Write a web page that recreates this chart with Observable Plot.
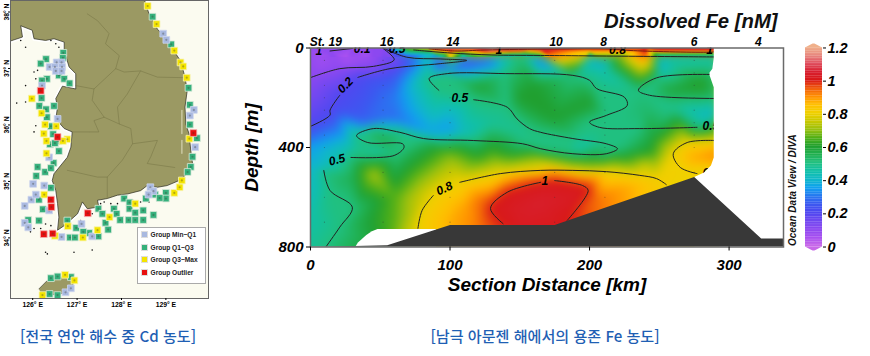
<!DOCTYPE html>
<html lang="ko">
<head>
<meta charset="utf-8">
<script src="https://cdn.jsdelivr.net/npm/d3@7"></script>
<script src="https://cdn.jsdelivr.net/npm/@observablehq/plot@0.6"></script>
<style>
html,body{margin:0;padding:0;background:#fff;width:870px;height:356px;overflow:hidden}
#page{position:relative;width:870px;height:356px}
#page>svg,#page>div{position:absolute}
.cap{font-family:"Noto Sans CJK KR";font-size:15.1px;font-weight:500;color:#1f5fb4;white-space:nowrap;transform:translateX(-50%);line-height:20px}
#legend{left:137px;top:227px;width:67px;height:55px;background:#fff;border:1px solid #aaa;font:bold 6.6px "Liberation Sans";color:#222}
#legend div{position:absolute;left:3px;display:flex;align-items:center;gap:2.5px;white-space:nowrap}
#legend i{display:block;width:7px;height:7px;box-sizing:border-box}
</style>
</head>
<body>
<div id="page"></div>
<script>
// ---------- Map: stations [lon, lat] ----------
const groupMinQ1 = [[128.94,37.67],[129.01,37.56],[129.63,36.32],[129.54,36.22],[129.66,35.66],[126.54,37.16],[126.65,37.16],[126.38,37.08],[126.50,37.08],[126.66,37.08],[126.52,37.01],[126.65,37.01],[126.21,36.75],[126.56,36.16],[126.37,35.48],[126.01,35.01],[126.26,34.98],[125.82,34.62],[125.97,34.73],[126.07,34.82],[126.37,34.54],[125.82,34.32],[125.90,34.24],[127.10,34.30],[127.34,34.08],[126.65,34.07],[128.65,34.95],[128.72,34.88],[128.61,34.82],[126.74,33.09],[126.86,33.16]];
const groupQ1Q3 = [[128.70,37.97],[129.12,37.48],[129.51,36.71],[129.54,36.41],[129.54,36.06],[129.70,35.82],[129.60,35.49],[129.56,35.31],[129.49,35.22],[126.69,37.33],[126.68,37.24],[126.30,37.22],[126.18,37.14],[126.32,36.87],[126.21,36.84],[126.59,36.93],[126.71,36.87],[126.83,36.79],[126.20,36.53],[126.15,36.39],[126.30,36.33],[126.48,36.39],[126.32,36.19],[126.41,36.03],[126.46,35.89],[126.57,35.77],[126.39,35.71],[126.50,35.73],[126.59,35.59],[126.47,35.38],[126.11,35.31],[126.28,35.22],[126.41,35.29],[126.08,35.15],[126.41,34.94],[126.14,34.73],[126.23,34.56],[126.14,34.36],[125.90,34.37],[126.78,34.36],[128.06,34.75],[128.18,34.68],[128.18,34.57],[127.83,34.57],[127.48,34.57],[127.57,34.48],[127.89,34.48],[128.31,34.50],[128.49,34.54],[128.72,34.46],[127.97,34.37],[128.16,34.37],[128.31,34.37],[128.49,34.37],[127.64,34.32],[126.98,34.23],[127.27,34.14],[127.14,34.16],[127.48,34.08],[127.70,34.20],[126.84,34.06],[126.95,34.06],[128.76,34.82],[129.00,34.85],[129.00,34.75],[128.86,34.76],[128.55,34.75],[126.41,33.34],[126.56,33.37],[126.86,33.36],[126.38,33.06],[126.56,33.04]];
const groupQ3Max = [[128.59,38.16],[128.79,37.84],[129.19,37.37],[129.33,37.16],[129.39,37.09],[129.47,36.89],[125.98,36.52],[126.20,36.26],[126.28,36.06],[126.53,36.03],[126.25,35.90],[126.78,35.80],[126.31,35.77],[126.68,35.77],[126.31,35.55],[129.53,35.81],[126.26,34.82],[126.79,34.26],[127.46,34.19],[127.73,34.42],[128.31,34.66],[127.13,34.06],[126.50,34.09],[129.19,34.85],[129.31,34.95],[129.36,35.07],[126.73,33.40],[126.94,33.30],[126.22,33.04]];
const groupOutlier = [[126.18,36.66],[129.62,35.91],[126.56,35.84],[126.41,34.73],[126.42,34.60],[126.25,34.12],[126.45,34.13],[127.24,34.49]];
const coastMain = [[125.50,38.26],[128.52,38.26],[128.62,38.02],[128.81,37.75],[129.03,37.55],[129.20,37.34],[129.33,37.19],[129.43,36.90],[129.48,36.66],[129.43,36.37],[129.45,36.07],[129.52,35.90],[129.57,35.54],[129.60,35.37],[129.52,35.28],[129.48,35.19],[129.30,35.07],[129.03,34.98],[128.81,34.95],[128.58,34.98],[128.43,34.89],[128.13,34.83],[127.91,34.81],[127.68,34.75],[127.46,34.72],[127.49,34.60],[127.23,34.57],[127.12,34.69],[127.01,34.48],[126.71,34.27],[126.56,34.19],[126.59,34.42],[126.56,34.66],[126.52,34.89],[126.44,35.07],[126.48,35.19],[126.78,35.48],[126.86,35.66],[126.89,35.93],[126.71,35.99],[126.52,36.16],[126.56,36.37],[126.52,36.52],[126.67,36.74],[126.97,36.69],[126.97,36.96],[126.82,37.08],[126.71,37.37],[126.71,37.52],[126.48,37.58],[126.29,37.55],[126.03,37.58],[125.99,37.73],[125.73,37.81],[125.77,37.61],[125.50,37.54]];
const coastJeju = [[126.14,33.15],[126.33,33.30],[126.71,33.37],[126.93,33.30],[126.89,33.18],[126.74,33.08],[126.22,33.02]];
const provinceLines = [
 [[127.23,38.02],[127.46,37.90],[127.72,37.67],[127.64,37.49],[127.95,37.28],[127.87,37.05],[128.06,36.99],[128.43,37.01],[128.81,36.90],[129.43,36.89]],
 [[126.97,36.75],[127.38,36.69],[127.87,37.05]],
 [[127.38,36.69],[127.34,36.49],[127.61,36.19],[127.38,36.13],[127.49,35.93],[127.27,35.93],[126.89,35.93]],
 [[128.43,37.01],[128.13,36.60],[127.91,36.37],[127.95,36.07],[128.21,35.99],[128.25,35.72],[128.02,35.43],[127.68,35.13],[127.68,34.75]],
 [[127.95,36.07],[127.61,36.19]],
 [[128.25,35.72],[128.81,35.78],[128.66,35.49],[128.58,35.37],[129.20,35.30]],
 [[126.78,35.25],[127.46,35.13],[127.68,35.13]]
];
const tileLines = [[[129.36,36.31],[129.36,35.90]],[[129.36,35.78],[129.36,35.55]]];
const islandSpecks = [[125.73,37.55],[125.84,37.43],[126.03,36.99],[126.07,36.87],[126.11,37.02],[125.84,36.75],[125.64,36.44],[125.84,36.46],[126.07,36.04],[126.03,35.93],[126.52,37.49],[126.41,37.55],[126.59,37.43],[126.29,33.80],[126.33,33.77],[127.34,33.84],[126.93,33.80],[126.03,34.22],[126.18,34.22],[125.95,34.16],[127.61,34.69],[127.76,34.66],[127.91,34.66],[127.53,34.66],[127.34,34.48],[127.08,34.36],[128.81,34.72],[128.43,34.69],[128.62,34.69],[128.25,34.72],[129.18,34.89],[126.29,34.30],[126.41,34.27]];
const lonTicks = [126,127,128,129];
const latTicks = [34,35,36,37,38];
const legendNames = ["Group Min~Q1","Group Q1~Q3","Group Q3~Max","Group Outlier"];
const legendFills = ["#a9b9e0","#35b07c","#f4e400","#e80f10"];

// ---------- Section: contour lines, each piece [km, depth], with its value ----------
const contourLines = [
 {value:0.1, pts:[[0,119],[21,83],[45,74],[60,47],[52,2]]},
 {value:0.1, pts:[[14,12],[30,2]]},
 {value:0.2, pts:[[0,315],[14,270],[14,250],[21,190]]},
 {value:0.2, pts:[[34,118],[57,83],[93,63],[112,50],[93,44],[69,37],[52,0]]},
 {value:0.5, pts:[[92,170],[85,123],[98,103],[140,103],[188,110],[200,130],[205,163],[225,198],[227,231],[212,271],[200,298],[207,319],[236,324],[277,319]]},
 {value:0.5, pts:[[117,208],[141,238],[148,285],[157,324],[165,339],[188,364],[212,385],[220,405],[212,425],[188,425],[165,405],[152,385],[117,372],[81,364],[64,339],[45,324],[33,352],[41,380],[66,385],[67,400],[60,432],[29,440]]},
 {value:0.5, pts:[[9.5,492],[14,573],[30,640],[21,720],[11,800]]},
 {value:0.5, pts:[[292,107],[248,120],[235,170],[243,190],[292,203]]},
 {value:0.8, pts:[[77,725],[80,653],[88,593]]},
 {value:0.8, pts:[[107,540],[136,505],[165,492],[188,492],[212,497],[236,512],[248,525],[255,549]]},
 {value:0.8, pts:[[292,372],[270,380],[260,425],[265,480],[277,505]]},
 {value:1, pts:[[138,706],[129,645],[141,580],[165,540]]},
 {value:1, pts:[[175,533],[195,553],[199,573],[184,693]]}
];
// thin surface-layer contour pieces (not used as field samples)
const surfaceLine05 = [[74,8],[100,20],[130,28],[165,30],[290,36]];
const surfaceLine1 = [[85,3],[103,12],[125,8],[175,4],[215,4],[229,10],[284,17],[292,14]];
// additional readings of the Fe field [km, depth, nM]
const fieldSamples = [
 [0,0,.08],[30,0,.07],[45,0,.1],[52,0,.2],[60,0,.45],[70,0,.7],[85,0,1.0],[100,0,1.15],[130,0,1.18],[160,0,1.1],[200,0,1.03],[240,0,1.03],[292,0,1.03],
 [0,6,.08],[60,6,.35],[85,6,.7],[100,6,1.05],[130,6,1.18],[165,6,1.05],[200,6,.95],[250,6,1.05],[292,6,1.05],
 [60,14,.28],[85,14,.55],[110,14,.78],[150,14,.9],[200,14,.82],[250,14,.9],[292,14,.9],
 [60,25,.24],[85,25,.42],[110,25,.48],[150,25,.5],[200,25,.52],[250,25,.55],[292,25,.55],
 [130,40,.33],[165,40,.36],[200,40,.4],[250,40,.42],[292,40,.44],
 [130,60,.3],[165,60,.3],[210,60,.34],[250,60,.38],[292,60,.4],
 [100,85,.3],[130,85,.4],[165,85,.42],[210,85,.44],[292,85,.46],
 [25,40,.04],[10,40,.06],[40,40,.06],[10,90,.09],[30,60,.06],
 [20,250,.22],[60,200,.3],[60,120,.25],[40,300,.27],[60,280,.28],[100,280,.38],[100,330,.35],[85,340,.36],[110,340,.42],[130,300,.47],[150,340,.48],
 [150,200,.6],[200,220,.6],[175,280,.6],[120,150,.59],[160,150,.6],[225,300,.5],[240,240,.52],[245,360,.58],
 [260,170,.58],[280,150,.62],[260,240,.48],[280,260,.42],[280,300,.44],[292,260,.42],
 [0,400,.35],[0,500,.4],[0,600,.42],[0,700,.45],[0,800,.47],[10,480,.42],[40,700,.58],
 [50,360,.56],[30,400,.45],[50,420,.46],[120,440,.62],[100,430,.68],[130,430,.65],[45,505,.72],[30,520,.55],[60,600,.65],[60,720,.66],[75,650,.74],
 [165,450,.72],[200,450,.6],[190,405,.45],[245,420,.62],[240,470,.75],
 [275,440,.88],[292,430,.92],[285,500,.78],[292,520,.8],
 [165,620,1.04],[150,650,1.03],[190,600,1.02],[125,620,.95],[110,640,.88],[100,700,.87],[205,610,.93],[225,565,.88],[250,535,.82],[175,715,1.01],[150,715,1.02],[120,715,.92],
 [292,800,.8],[240,800,.85],[180,800,1.0],[100,800,.85],[50,800,.6]
];
const stationDotKm = [10,52,100,175,211,275];
const stationDotDepth = [50,100,150,200,250,300,350,400,500,600,700];
const bathymetry = [[0,800],[55,793],[100,712],[175,712],[275,519],[323,766],[339,766],[339,800]];
const whitePocket = [[32,800],[34,782],[37,767],[40,752],[44,737],[48,728],[90,728],[90,800]];
const dataEdge = [[289,-2],[289,40],[288,83],[286,98],[286,110],[289,158],[289,300],[289,400],[289,440],[287,472],[282,500],[275,519],[275,800],[339,800],[339,-2]];
const stationKm = [11,54.6,102,176,210,275,321];
const stationNames = ["St. 19","16","14","10","8","6","4"];
const contourLabels = [
 {km:6,depth:14,t:"1",r:0},{km:37,depth:4,t:"0.1",r:0},{km:62,depth:3,t:"0.5",r:0},{km:135,depth:8,t:"1",r:0},{km:220,depth:8,t:"0.8",r:0},{km:286,depth:10,t:"1",r:0},
 {km:25,depth:150,t:"0.2",r:-45},{km:107,depth:200,t:"0.5",r:0},{km:19,depth:450,t:"0.5",r:-15},{km:96,depth:565,t:"0.8",r:-25},{km:168,depth:537,t:"1",r:0},{km:287,depth:316,t:"0.5",r:0},{km:287,depth:505,t:"0.8",r:0}
];
const barTicks = [0,.2,.4,.6,.8,1,1.2];
const barLevels = d3.range(0,1.2,0.01);
const colorStops = [0,.05,.1,.15,.2,.25,.3,.35,.4,.45,.5,.55,.6,.65,.7,.75,.8,.85,.9,.95,1,1.05,1.1,1.15,1.2];
const colorValues = ["#c868e8","#a850f0","#8c48f0","#7048f0","#5048f0","#3c58f0","#2878f0","#10a0f0","#10b8c8","#10c0a8","#20c080","#20b050","#20a030","#50b018","#98c010","#c8c800","#f0d000","#ffc000","#ff9000","#f05a0a","#d81818","#d82030","#e05060","#e88a80","#f0b08a"];

// ---------- Build ----------
const page = document.getElementById("page");
const fe = {type:"linear",domain:colorStops,range:colorValues,clamp:true};
const font = {fontFamily:"Liberation Sans",fontWeight:"bold",fontStyle:"italic",background:"transparent",overflow:"visible"};
const square = (d,fill,st) => [
  Plot.dot(d,{x:"0",y:"1",symbol:"square",r:3.8,fill,stroke:st,strokeWidth:.8}),
  Plot.dot(d,{x:"0",y:"1",r:1.1,fill:"#3a3a2a",fillOpacity:.35})
];

const map = Plot.plot({
  width:220,height:320,marginLeft:10,marginRight:12,marginTop:0,marginBottom:22,
  style:{fontFamily:"Liberation Sans",fontWeight:"bold",background:"transparent",overflow:"visible"},
  x:{domain:[125.5,129.96]},y:{domain:[32.98,38.257]},
  marks:[
    Plot.frame({fill:"#fbfbf0"}),
    Plot.line(coastMain.slice(24),{x:"0",y:"1",stroke:"#fff",strokeWidth:4,clip:"frame"}),
    Plot.line(coastMain,{x:"0",y:"1",fill:"#9b9963",stroke:"#2b2b20",strokeWidth:.7,clip:"frame"}),
    Plot.line(coastJeju,{x:"0",y:"1",fill:"#9b9963",stroke:"#2b2b20",strokeWidth:.6,clip:"frame"}),
    ...provinceLines.map(l=>Plot.line(l,{x:"0",y:"1",stroke:"#7b7948",strokeWidth:.6})),
    ...tileLines.map(l=>Plot.line(l,{x:"0",y:"1",stroke:"#c9c7a0",strokeWidth:1.5})),
    Plot.dot(islandSpecks,{x:"0",y:"1",r:.8,fill:"#111"}),
    ...square(groupQ1Q3,"#35b07c","#d8e8d8"),
    ...square(groupMinQ1,"#a9b9e0","#cdd6ee"),
    ...square(groupQ3Max,"#f4e400","#f8f4b0"),
    ...square(groupOutlier,"#e80f10","#f4b0b0"),
    Plot.frame({stroke:"#666",strokeWidth:1}),
    Plot.axisX({ticks:lonTicks,tickFormat:d=>`${d}° E`,tickSize:2,tickPadding:2,fontSize:6.8,label:null}),
    Plot.axisY({ticks:latTicks,tickFormat:d=>`${d}° N`,tickSize:2,tickPadding:0,tickRotate:-90,fontSize:6.8,label:null,dy:-3})
  ]
});
map.style.left="0";map.style.top="0";
page.append(map);

const samples = [...contourLines.flatMap(c=>c.pts.map(p=>[p[0],p[1],c.value])),...fieldSamples];
const lineRows = contourLines.map(c=>c.pts).concat([surfaceLine05]).flatMap((pts,id)=>pts.map(p=>({km:p[0],depth:p[1],id})));
const dots = stationDotKm.flatMap(k=>stationDotDepth.map(d=>[k,d]));

const section = Plot.plot({
  width:640,height:300,marginLeft:80,marginRight:87,marginTop:47.5,marginBottom:53.5,
  style:{...font,fontSize:"17px"},
  color:fe,
  x:{domain:[0,339]},y:{domain:[0,800],reverse:true},
  marks:[
    Plot.raster(samples,{x:"0",y:"1",fill:"2",interpolate:"barycentric",x1:0,x2:293,y1:0,y2:800,blur:4,clip:"frame"}),
    Plot.raster(samples,{x:"0",y:"1",fill:"2",interpolate:"barycentric",x1:0,x2:293,y1:0,y2:36,blur:.8,clip:"frame"}),
    Plot.dot(dots,{x:"0",y:"1",r:.6,fill:"#333",fillOpacity:.45}),
    Plot.line(lineRows,{x:"km",y:"depth",z:"id",curve:"catmull-rom",stroke:"#222",strokeWidth:1,clip:"frame"}),
    Plot.line(surfaceLine1,{x:"0",y:"1",curve:"catmull-rom",stroke:"#7a1a10",strokeWidth:1,clip:"frame"}),
    Plot.text(contourLabels,{x:"km",y:"depth",text:"t",rotate:"r",fontSize:12,fill:"#000",clip:"frame"}),
    Plot.line(dataEdge,{x:"0",y:"1",fill:"#fff",clip:"frame"}),
    Plot.line(whitePocket,{x:"0",y:"1",fill:"#fff",clip:"frame"}),
    Plot.line(bathymetry,{x:"0",y:"1",fill:"#383838",clip:"frame"}),
    Plot.frame({stroke:"#6a6a6a",strokeWidth:1.5}),
    Plot.axisX({ticks:[0,100,200,300],tickSize:4,tickPadding:8,fontSize:15,label:"Section Distance [km]",labelAnchor:"center",labelArrow:"none",labelOffset:44}),
    Plot.axisX({anchor:"top",ticks:stationKm,tickFormat:(d,i)=>stationNames[i],tickSize:0,tickPadding:2,fontSize:12,label:null}),
    Plot.axisY({ticks:[0,400,800],tickSize:4,tickPadding:3,fontSize:15,label:"Depth [m]",labelAnchor:"center",labelArrow:"none",labelOffset:66})
  ]
});
section.style.left="230px";section.style.top="0";
section.querySelectorAll('[aria-label="x-axis label"] text, [aria-label="y-axis label"] text').forEach(t=>t.style.fontSize="19px");
page.append(section);

const bar = Plot.plot({
  width:66,height:260,marginLeft:5,marginRight:44,marginTop:43.5,marginBottom:9.5,
  style:{...font,fontSize:"14px"},
  color:fe,
  x:{domain:[0,1],axis:null},y:{domain:[-.024,1.224]},
  marks:[
    Plot.rect(barLevels,{x1:0,x2:1,y1:d=>d,y2:d=>d+.011,fill:d=>d}),
    Plot.areaX([[1.2,0,1],[1.216,.3,.7],[1.224,.45,.55]],{y:"0",x1:"1",x2:"2",fill:"#f0b08a"}),
    Plot.areaX([[0,0,1],[-.016,.3,.7],[-.024,.45,.55]],{y:"0",x1:"1",x2:"2",fill:"#c868e8"}),
    Plot.axisY({anchor:"right",ticks:barTicks,tickFormat:d=>String(d),tickSize:3,tickPadding:2,fontSize:14.5,label:null})
  ]
});
bar.style.left="800px";bar.style.top="0";
page.append(bar);

function addHtml(cls,text,left,top){const e=document.createElement("div");e.className=cls;e.textContent=text;Object.assign(e.style,{left:left+"px",top:top+"px"});page.append(e);return e;}
addHtml("cap","[전국 연안 해수 중 Cd 농도]",108,325);
addHtml("cap","[남극 아문젠 해에서의 용존 Fe 농도]",545,325);
const title=addHtml("ttl","Dissolved Fe [nM]",604,10);
title.style.font="italic bold 20.3px 'Liberation Sans'";title.style.color="#111";title.style.whiteSpace="nowrap";
const odv=addHtml("odv","Ocean Data View / DIVA",787,246);
Object.assign(odv.style,{font:"italic bold 10px 'Liberation Sans'",color:"#111",whiteSpace:"nowrap",transformOrigin:"0 0",transform:"rotate(-90deg)"});

const legend=document.createElement("div");legend.id="legend";
legendNames.forEach((n,i)=>{const r=document.createElement("div");r.style.top=(3+i*12.7)+"px";const s=document.createElement("i");s.style.background=legendFills[i];s.style.border="1px solid #ddd";const t=document.createElement("span");t.textContent=n;r.append(s,t);legend.append(r);});
page.append(legend);
</script>
</body>
</html>
